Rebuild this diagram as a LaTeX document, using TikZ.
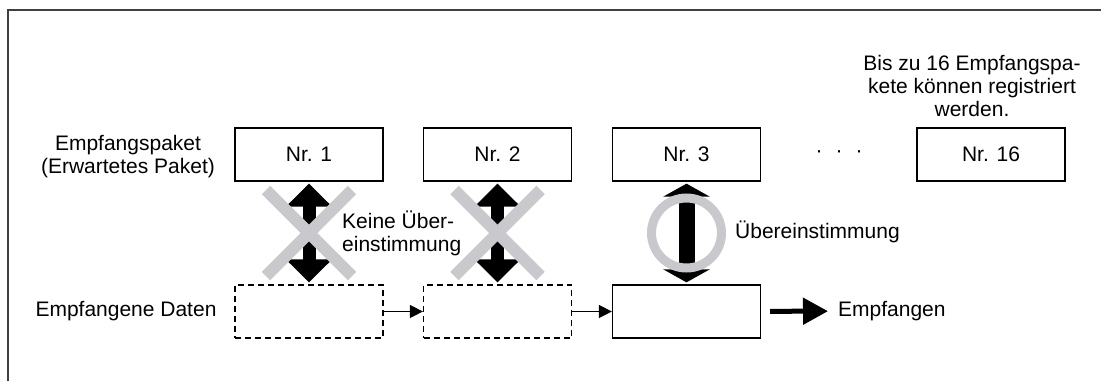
\documentclass[tikz,border=0pt]{standalone}
\usepackage{fontspec}
\setmainfont{Liberation Sans}
\usetikzlibrary{arrows.meta}
\definecolor{kreuzgrau}{RGB}{200,200,205}
\tikzset{
  paket/.style={draw, line width=1.3pt, minimum width=148pt, minimum height=53pt, inner sep=0pt},
  daten/.style={paket, dash pattern=on 6pt off 4pt},
  vergleich/.style={line width=13pt, {Triangle[width=45pt,length=23pt]}-{Triangle[width=45pt,length=23pt]}, shorten <=2pt, shorten >=2pt},
  treffer/.style={line width=16pt, {Triangle[width=46pt,length=13pt]}-{Triangle[width=46pt,length=13pt]}, shorten <=2pt, shorten >=2pt},
  kreuz/.style={kreuzgrau, line width=12pt},
  fluss/.style={line width=1.5pt, -{Triangle[width=13pt,length=13pt]}},
  ausgabe/.style={line width=5pt, -{Triangle[width=26pt,length=25pt]}},
  beschriftung/.style={inner sep=0pt}
}
\begin{document}
\begin{tikzpicture}[x=1pt, y=-1pt, font=\fontsize{21}{23}\selectfont]
    \useasboundingbox (0,0) rectangle (1101,381);
    % Rahmen
    \draw[line width=1.5pt, black!75] (8,381) -- (8,10) -- (1101,10);
    % Empfangspakete
    \node[paket] (p1) at (309,154.5) {Nr. 1};
    \node[paket] (p2) at (497.5,154.5) {Nr. 2};
    \node[paket] (p3) at (686.5,154.5) {Nr. 3};
    \node[paket] (p16) at (991,154.5) {Nr. 16};
    \node[beschriftung] (punkte) at (839,154) {·\hspace{13pt}·\hspace{13pt}·};
    \node[beschriftung, align=center] (hinweis) at (972,86) {Bis zu 16 Empfangspa-\\kete können registriert\\werden.};
    \node[beschriftung, align=center] (links1) at (128,157) {Empfangspaket\\(Erwartetes Paket)};
    % Empfangene Daten
    \node[daten] (d1) at (309,311.5) {};
    \node[daten] (d2) at (497.5,311.5) {};
    \node[paket] (d3) at (686.5,311.5) {};
    \node[beschriftung] (links2) at (126,311) {Empfangene Daten};
    \node[beschriftung, anchor=west] (empf) at (838,311) {Empfangen};
    \draw[fluss] (d1) -- (d2);
    \draw[fluss] (d2) -- (d3);
    \draw[ausgabe, shorten <=9pt, shorten >=10pt] (d3) -- (empf);
    % Vergleich
    \draw[vergleich] (p1) -- (d1) coordinate[midway] (m1);
    \draw[vergleich] (p2) -- (d2) coordinate[midway] (m2);
    \draw[treffer] (p3) -- (d3) coordinate[midway] (m3);
    \draw[kreuz] ([shift={(-43,-43)}]m1) -- ([shift={(43,43)}]m1);
    \draw[kreuz] ([shift={(-43,43)}]m1) -- ([shift={(43,-43)}]m1);
    \draw[kreuz] ([shift={(-43,-43)}]m2) -- ([shift={(43,43)}]m2);
    \draw[kreuz] ([shift={(-43,43)}]m2) -- ([shift={(43,-43)}]m2);
    \draw[kreuzgrau, line width=9pt] (m3) circle[radius=35pt];
    \node[beschriftung, anchor=west, align=left] (keine) at (342,233) {Keine Über-\\einstimmung};
    \node[beschriftung, anchor=west] (gleich) at (735,232) {Übereinstimmung};
\end{tikzpicture}
\end{document}
